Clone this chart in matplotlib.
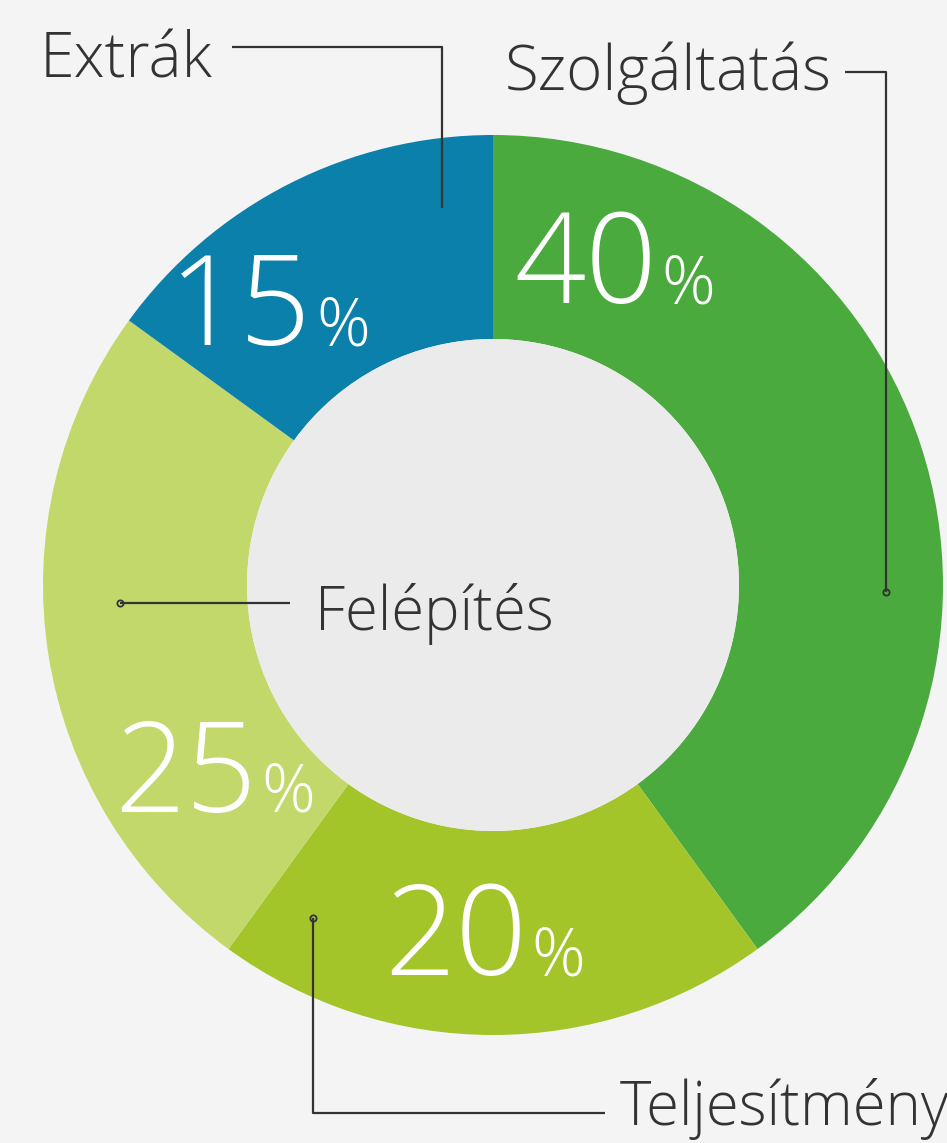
import matplotlib
matplotlib.use("Agg")
import matplotlib.pyplot as plt
from matplotlib.patches import Circle

categories = ["Szolgáltatás", "Teljesítmény", "Felépítés", "Extrák"]
values = [40, 20, 25, 15]
pct_labels = ["40", "20", "25", "15"]
colors = ["#4aaa3d", "#a4c52a", "#c3d86a", "#0a80aa"]

W, H = 947, 1143
fig = plt.figure(figsize=(W / 100, H / 100), dpi=100)
fig.patch.set_facecolor("#f4f4f4")
ax = fig.add_axes([0, 0, 1, 1])
ax.set_facecolor("#f4f4f4")

def Y(y):
    return H - y

cx, cy = 493, Y(585)
R_out, R_in = 450, 246

ax.pie(values, colors=colors, startangle=90, counterclock=False,
       center=(cx, cy), radius=R_out,
       wedgeprops=dict(width=R_out - R_in, linewidth=0))
ax.add_patch(Circle((cx, cy), R_in, facecolor="#ebebeb", edgecolor="none", zorder=3))

ax.set_xlim(0, W)
ax.set_ylim(0, H)
ax.set_aspect("equal")
ax.axis("off")

font = dict(family=["Open Sans", "DejaVu Sans"], fontweight="light")
lc = "#333333"
lw = 1.6

# percentage labels: (digits right edge x, baseline y)
pct_pos = {"40": (657, 303), "20": (527, 975), "25": (257, 812), "15": (312, 345)}
for p in pct_labels:
    x, y = pct_pos[p]
    ax.text(x, Y(y), p, color="white", fontsize=90, ha="right", va="baseline", zorder=5, **font)
    ax.text(x + 4, Y(y), "%", color="white", fontsize=48, ha="left", va="baseline", zorder=5, **font)

# category labels
tc = "#333333"
ax.text(40, Y(77), "Extrák", fontsize=45, color=tc, ha="left", va="baseline", zorder=5, **font)
ax.text(505, Y(90), "Szolgáltatás", fontsize=44.5, color=tc, ha="left", va="baseline", zorder=5, **font)
ax.text(315, Y(630), "Felépítés", fontsize=43, color=tc, ha="left", va="baseline", zorder=5, **font)
ax.text(620, Y(1125), "Teljesítmény", fontsize=43, color=tc, ha="left", va="baseline", zorder=5, **font)

# leader lines
def leader(xs, ys, dot=True):
    ax.plot(xs, [Y(v) for v in ys], color=lc, lw=lw, zorder=6, solid_capstyle="butt")
    if dot:
        ax.plot([xs[-1]], [Y(ys[-1])], marker="o", ms=4.5, mfc="none", mec=lc, mew=1.3, zorder=6)

leader([232, 442, 442], [47, 47, 208], dot=False)
leader([845, 886, 886], [72, 72, 592])
leader([290, 120], [603, 603])
leader([605, 313, 313], [1113, 1113, 918])

fig.savefig("out.png", dpi=100, facecolor=fig.get_facecolor())
